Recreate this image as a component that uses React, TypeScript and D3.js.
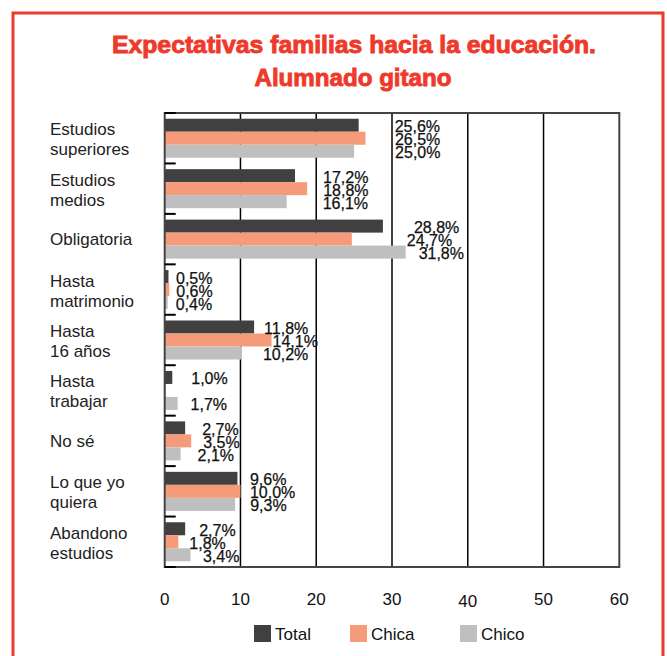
import React from "react";
import * as d3 from "d3";

const categories: string[][] = [
  ["Estudios", "superiores"],
  ["Estudios", "medios"],
  ["Obligatoria"],
  ["Hasta", "matrimonio"],
  ["Hasta", "16 años"],
  ["Hasta", "trabajar"],
  ["No sé"],
  ["Lo que yo", "quiera"],
  ["Abandono", "estudios"],
];
const seriesNames = ["Total", "Chica", "Chico"];
const totalValues = [25.6, 17.2, 28.8, 0.5, 11.8, 1.0, 2.7, 9.6, 2.7];
const chicaValues = [26.5, 18.8, 24.7, 0.6, 14.1, 0.1, 3.5, 10.0, 1.8];
const chicoValues = [25.0, 16.1, 31.8, 0.4, 10.2, 1.7, 2.1, 9.3, 3.4];
// labels printed in the original (the near-zero Chica bar has none)
const totalLabels = ["25,6%", "17,2%", "28,8%", "0,5%", "11,8%", "1,0%", "2,7%", "9,6%", "2,7%"];
const chicaLabels = ["26,5%", "18,8%", "24,7%", "0,6%", "14,1%", "", "3,5%", "10,0%", "1,8%"];
const chicoLabels = ["25,0%", "16,1%", "31,8%", "0,4%", "10,2%", "1,7%", "2,1%", "9,3%", "3,4%"];
const xTicks = [0, 10, 20, 30, 40, 50, 60];
const title = ["Expectativas familias hacia la educación.", "Alumnado gitano"];

// layout: label nudges (px from bar end), per series
const labelNudge = [
  [36, 28, 31, 7.5, 10, 19, 17, 12.5, 14],
  [29.5, 16, 55, 7, 1, 0, 12, 9.5, 11],
  [41, 36, 13, 8, 21, 13, 17, 15, 12.5],
];

const colors = ["#404040", "#f59b7a", "#bfbfbf"];
const FONT = "'Liberation Sans', Arial, Helvetica, sans-serif";
const RED = "#ee3a2a";

export default function App() {
  const left = 164.7, right = 619.3, top = 113, bottom = 567;
  const x = d3.scaleLinear().domain([0, 60]).range([left, right]);
  const idx = categories.map((_, i) => i);
  const y0 = d3.scaleBand<number>().domain(idx).range([top, bottom]).padding(0);
  const y1 = d3
    .scaleBand<number>()
    .domain([0, 1, 2])
    .range([0, y0.bandwidth()])
    .paddingInner(0)
    .paddingOuter(0.44);
  const values = [totalValues, chicaValues, chicoValues];
  const labels = [totalLabels, chicaLabels, chicoLabels];

  return (
    <svg
      width={667}
      height={656}
      style={{ position: "absolute", left: 0, top: 0, background: "#fff" }}
      fontFamily={FONT}
    >
      <rect x={0} y={0} width={667} height={656} fill="#fff" />
      <rect x={13} y={13} width={650} height={720} fill="none" stroke={RED} strokeWidth={3} />
      <text x={354} y={52.5} textAnchor="middle" fill={RED} stroke={RED} strokeWidth={0.9}
        fontSize={24} fontWeight="bold" textLength={484} lengthAdjust="spacingAndGlyphs">{title[0]}</text>
      <text x={353} y={86} textAnchor="middle" fill={RED} stroke={RED} strokeWidth={0.9}
        fontSize={24} fontWeight="bold" textLength={197} lengthAdjust="spacingAndGlyphs">{title[1]}</text>

      {/* gridlines */}
      {xTicks.slice(1, -1).map((t) => (
        <line key={t} x1={x(t)} x2={x(t)} y1={top} y2={bottom} stroke="#000" strokeWidth={1.5} />
      ))}

      {/* bars */}
      {values.map((vals, s) =>
        vals.map((v, i) => (
          <rect
            key={`${s}-${i}`}
            x={x(0)}
            y={(y0(i) as number) + (y1(s) as number)}
            width={x(v) - x(0)}
            height={y1.bandwidth()}
            fill={colors[s]}
          />
        ))
      )}

      {/* plot border */}
      <rect x={left} y={top} width={right - left} height={bottom - top} fill="none" stroke="#444" strokeWidth={2} />

      {/* y ticks */}
      {d3.range(categories.length + 1).map((i) => {
        const yy = top + i * y0.bandwidth();
        return <line key={i} x1={left} x2={left + 11} y1={yy} y2={yy} stroke="#000" strokeWidth={2} />;
      })}

      {/* value labels */}
      {labels.map((labs, s) =>
        labs.map((lab, i) =>
          lab ? (
            <text
              key={`l${s}-${i}`}
              x={x(values[s][i]) + labelNudge[s][i]}
              y={(y0(i) as number) + (y1(s) as number) + y1.bandwidth() / 2 + 7}
              fontSize={16}
              fill="#111"
              stroke="#111"
              strokeWidth={0.25}
            >
              {lab}
            </text>
          ) : null
        )
      )}

      {/* category labels */}
      {categories.map((lines, i) => {
        const c = (y0(i) as number) + y0.bandwidth() / 2;
        return (
          <text key={`c${i}`} x={50} fontSize={17} fill="#222">
            {lines.length === 1 ? (
              <tspan x={50} y={c + 6}>{lines[0]}</tspan>
            ) : (
              lines.map((ln, k) => (
                <tspan key={k} x={50} y={c - 3 + k * 20}>{ln}</tspan>
              ))
            )}
          </text>
        );
      })}

      {/* x tick labels */}
      {xTicks.map((t) => (
        <text key={`t${t}`} x={x(t)} y={t === 40 ? 607 : 605} textAnchor="middle" fontSize={17} fill="#111">
          {t}
        </text>
      ))}

      {/* legend */}
      {seriesNames.map((n, s) => {
        const lx = [254, 350, 460][s];
        return (
          <g key={n}>
            <rect x={lx} y={625} width={17} height={17} fill={colors[s]} />
            <text x={lx + 21} y={640} fontSize={17} fill="#111">{n}</text>
          </g>
        );
      })}
    </svg>
  );
}
